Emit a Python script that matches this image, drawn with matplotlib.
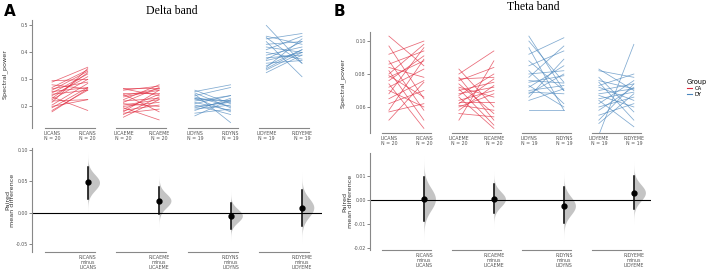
import numpy as np
import matplotlib.pyplot as plt
from matplotlib.lines import Line2D

# 分组与颜色
conds = ["LICANS", "RICANS", "LICAEME", "RICAEME", "LIDYNS", "RIDYNS", "LIDYEME", "RIDYEME"]
n_obs = [20, 20, 20, 20, 19, 19, 19, 19]
groups = ["CA", "CA", "DY", "DY"]
col = {"CA": "#e0283c", "DY": "#4a86bd"}

# Delta band 配对数据 (左, 右)
d_licans = [0.295, 0.29, 0.28, 0.27, 0.265, 0.26, 0.255, 0.25, 0.245, 0.24,
            0.235, 0.23, 0.225, 0.22, 0.215, 0.205, 0.20, 0.195, 0.185, 0.18]
d_ricans = [0.30, 0.345, 0.265, 0.335, 0.29, 0.33, 0.27, 0.32, 0.26, 0.31,
            0.185, 0.325, 0.30, 0.225, 0.34, 0.285, 0.225, 0.27, 0.26, 0.265]
d_licaeme = [0.27, 0.265, 0.26, 0.25, 0.245, 0.24, 0.235, 0.225, 0.22, 0.215,
             0.21, 0.205, 0.2, 0.195, 0.19, 0.185, 0.18, 0.175, 0.17, 0.16]
d_ricaeme = [0.27, 0.24, 0.275, 0.25, 0.18, 0.265, 0.26, 0.28, 0.23, 0.27,
             0.2, 0.225, 0.215, 0.15, 0.245, 0.205, 0.26, 0.19, 0.235, 0.225]
d_lidyns = [0.26, 0.255, 0.25, 0.245, 0.24, 0.235, 0.23, 0.23, 0.225, 0.22,
            0.215, 0.21, 0.205, 0.2, 0.195, 0.19, 0.185, 0.175, 0.165]
d_ridyns = [0.21, 0.28, 0.195, 0.14, 0.27, 0.2, 0.22, 0.18, 0.22, 0.24,
            0.185, 0.24, 0.17, 0.215, 0.22, 0.205, 0.23, 0.19, 0.225]
d_lidyeme = [0.50, 0.46, 0.455, 0.45, 0.44, 0.43, 0.42, 0.41, 0.40, 0.39,
             0.38, 0.375, 0.37, 0.36, 0.35, 0.345, 0.34, 0.335, 0.325]
d_ridyeme = [0.36, 0.43, 0.36, 0.47, 0.31, 0.44, 0.40, 0.46, 0.375, 0.42,
             0.39, 0.44, 0.40, 0.37, 0.41, 0.45, 0.41, 0.40, 0.39]

# Theta band 配对数据
t_licans = [0.103, 0.097, 0.092, 0.088, 0.086, 0.084, 0.082, 0.080, 0.079, 0.078,
            0.076, 0.074, 0.072, 0.070, 0.068, 0.065, 0.062, 0.058, 0.057, 0.052]
t_ricans = [0.085, 0.065, 0.100, 0.058, 0.094, 0.078, 0.052, 0.098, 0.066, 0.088,
            0.091, 0.047, 0.083, 0.060, 0.096, 0.076, 0.070, 0.089, 0.062, 0.075]
t_licaeme = [0.083, 0.080, 0.078, 0.077, 0.076, 0.074, 0.072, 0.071, 0.070, 0.068,
             0.067, 0.066, 0.064, 0.063, 0.062, 0.061, 0.060, 0.058, 0.056, 0.052]
t_ricaeme = [0.060, 0.094, 0.052, 0.078, 0.084, 0.056, 0.066, 0.049, 0.075, 0.072,
             0.080, 0.047, 0.070, 0.063, 0.077, 0.058, 0.068, 0.073, 0.054, 0.088]
t_lidyns = [0.103, 0.100, 0.096, 0.092, 0.088, 0.085, 0.082, 0.080, 0.078, 0.076,
            0.075, 0.073, 0.072, 0.070, 0.069, 0.068, 0.066, 0.064, 0.058]
t_ridyns = [0.070, 0.075, 0.058, 0.102, 0.070, 0.094, 0.062, 0.082, 0.097, 0.0745,
            0.079, 0.060, 0.085, 0.073, 0.068, 0.080, 0.089, 0.071, 0.058]
t_lidyeme = [0.083, 0.082, 0.078, 0.076, 0.075, 0.073, 0.072, 0.070, 0.068, 0.067,
             0.065, 0.064, 0.062, 0.060, 0.058, 0.055, 0.052, 0.050, 0.043]
t_ridyeme = [0.070, 0.078, 0.057, 0.071, 0.052, 0.080, 0.064, 0.074, 0.071, 0.060,
             0.069, 0.048, 0.076, 0.066, 0.072, 0.062, 0.074, 0.068, 0.098]

# 配对均值差 及 95% CI
d_diff = [0.048, 0.019, -0.005, 0.008]
d_ci_lo = [0.022, -0.003, -0.027, -0.022]
d_ci_hi = [0.072, 0.041, 0.015, 0.036]
t_diff = [0.0003, 0.0003, -0.0025, 0.003]
t_ci_lo = [-0.009, -0.0055, -0.0095, -0.0038]
t_ci_hi = [0.0095, 0.0068, 0.0055, 0.0098]

delta_pairs = [(d_licans, d_ricans), (d_licaeme, d_ricaeme), (d_lidyns, d_ridyns), (d_lidyeme, d_ridyeme)]
theta_pairs = [(t_licans, t_ricans), (t_licaeme, t_ricaeme), (t_lidyns, t_ridyns), (t_lidyeme, t_ridyeme)]

plt.rcParams['font.family'] = ['DejaVu Sans']
W, H = 708, 273
fig = plt.figure(figsize=(W / 100, H / 100), dpi=100)
gray = '#555555'
tick_fs = 3.4
lab_fs = 4.6


def fr(x0, y0, x1, y1):
    # 像素 -> figure 坐标
    return [x0 / W, 1 - y1 / H, (x1 - x0) / W, (y1 - y0) / H]


def style_ax(ax):
    for s in ['top', 'right', 'bottom']:
        ax.spines[s].set_visible(False)
    ax.spines['left'].set_color('#888888')
    ax.spines['left'].set_linewidth(0.8)
    ax.tick_params(axis='y', labelsize=tick_fs, colors=gray, length=2, width=0.5, pad=1)
    ax.tick_params(axis='x', length=0, labelsize=tick_fs, colors=gray, pad=2.5)


def draw_top(ax, pairs, ylim, yticks, fmt):
    for i, (a, b) in enumerate(pairs):
        c = col[groups[i]]
        for va, vb in zip(a, b):
            ax.plot([2 * i, 2 * i + 1], [va, vb], color=c, lw=0.55, alpha=0.7)
        ax.plot([2 * i - 0.2, 2 * i + 1.2], [ylim[0], ylim[0]], color='#888888', lw=0.8, clip_on=False)
    ax.set_ylim(*ylim)
    ax.set_yticks(yticks)
    ax.set_yticklabels([fmt.format(v) for v in yticks])
    ax.set_xticks(range(8))
    ax.set_xticklabels([f"{c}\nN = {n}" for c, n in zip(conds, n_obs)], linespacing=1.0)
    style_ax(ax)


def draw_bottom(ax, diffs, lo, hi, ylim, yticks, fmt):
    ax.axhline(0, color='black', lw=0.8)
    for i in range(4):
        x = 2 * i + 1
        m = diffs[i]
        sd = (hi[i] - lo[i]) / (2 * 1.96)
        yy = np.linspace(m - 3.8 * sd, m + 3.8 * sd, 200)
        dens = np.exp(-0.5 * ((yy - m) / sd) ** 2)
        ax.fill_betweenx(yy, x, x + 0.33 * dens, color='#c4c4c4', lw=0)
        ax.plot([x, x], [lo[i], hi[i]], color='black', lw=1.1)
        ax.plot(x, m, 'o', color='black', ms=3.5)
        ax.plot([2 * i - 0.2, 2 * i + 1.2], [ylim[0], ylim[0]], color='#888888', lw=0.8, clip_on=False)
    ax.set_ylim(*ylim)
    ax.set_yticks(yticks)
    ax.set_yticklabels([fmt.format(v) for v in yticks])
    ax.set_xticks([1, 3, 5, 7])
    ax.set_xticklabels([f"{conds[2*i+1]}\nminus\n{conds[2*i]}" for i in range(4)], linespacing=1.0)
    style_ax(ax)


# A: Delta band
axA = fig.add_axes(fr(32, 20, 322, 128))
draw_top(axA, delta_pairs, (0.12, 0.52), [0.2, 0.3, 0.4, 0.5], "{:.1f}")
axA.set_xlim(-0.56, 7.56)
axA.set_ylabel("Spectral_power", fontsize=lab_fs, color='#333333')
axA.yaxis.set_label_coords(-0.083, 0.5)

axA2 = fig.add_axes(fr(32, 148, 322, 252))
draw_bottom(axA2, d_diff, d_ci_lo, d_ci_hi, (-0.063, 0.103), [-0.05, 0.0, 0.05, 0.10], "{:.2f}")
axA2.set_xlim(-0.56, 7.56)
axA2.set_ylabel("Paired\nmean difference", fontsize=lab_fs, color='#333333', linespacing=1.0)
axA2.yaxis.set_label_coords(-0.058, 0.5)

# B: Theta band
axB = fig.add_axes(fr(370, 32, 651, 133))
draw_top(axB, theta_pairs, (0.0442, 0.1055), [0.06, 0.08, 0.10], "{:.2f}")
axB.set_xlim(-0.54, 7.49)
axB.set_ylabel("Spectral_power", fontsize=lab_fs, color='#333333')
axB.yaxis.set_label_coords(-0.085, 0.5)

axB2 = fig.add_axes(fr(370, 153, 651, 250))
draw_bottom(axB2, t_diff, t_ci_lo, t_ci_hi, (-0.021, 0.0196), [-0.02, -0.01, 0.0, 0.01], "{:.2f}")
axB2.set_xlim(-0.54, 7.49)
axB2.set_ylabel("Paired\nmean difference", fontsize=lab_fs, color='#333333', linespacing=1.0)
axB2.yaxis.set_label_coords(-0.062, 0.5)

# 标题与面板字母
fig.text(172 / W, 1 - 11 / H, "Delta band", ha='center', va='center', fontsize=8.5, family='Liberation Serif')
fig.text(533 / W, 1 - 7 / H, "Theta band", ha='center', va='center', fontsize=8.5, family='Liberation Serif')
fig.text(4 / W, 1 - 11 / H, "A", ha='left', va='center', fontsize=11, fontweight='bold')
fig.text(334 / W, 1 - 11 / H, "B", ha='left', va='center', fontsize=11, fontweight='bold')

# 图例
handles = [Line2D([0], [0], color=col["CA"], lw=0.8), Line2D([0], [0], color=col["DY"], lw=0.8)]
leg = fig.legend(handles, ["CA", "DY"], title="Group", loc='upper left', bbox_to_anchor=(684 / W, 1 - 76 / H),
                 frameon=False, fontsize=3.8, title_fontsize=4.8, handlelength=1.0, handletextpad=0.5,
                 labelspacing=0.25, borderpad=0)
leg._legend_box.align = "left"

fig.savefig("out.png", dpi=100)
